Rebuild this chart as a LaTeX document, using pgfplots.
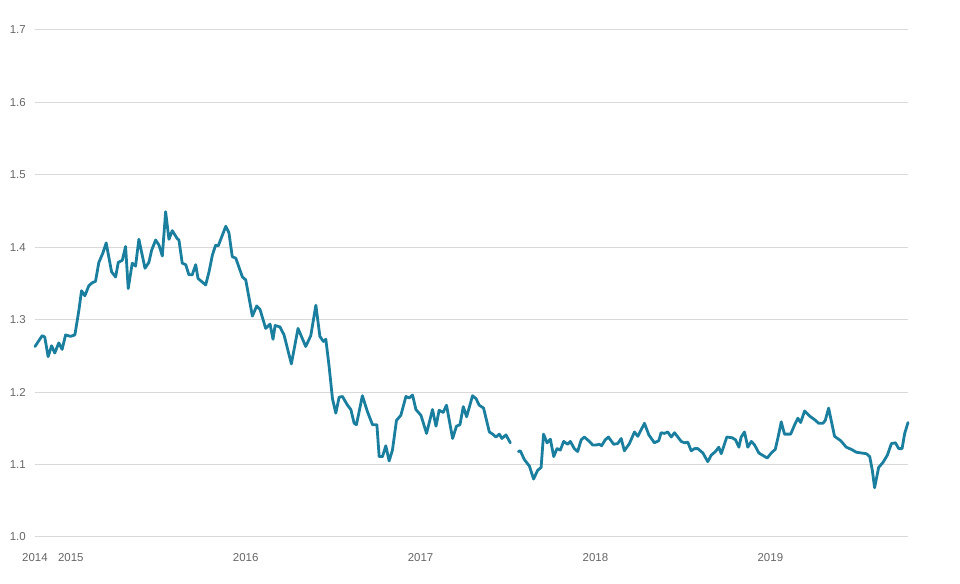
\documentclass[border=0pt]{standalone}
\usepackage{pgfplots}
\usepackage{pgfplotstable}
\pgfplotsset{compat=1.18}
\usepackage{fontspec}
\setmainfont{Liberation Sans}

\definecolor{lineteal}{HTML}{1A7F9F}
\definecolor{gridgrey}{HTML}{D9D9D9}
\definecolor{labelgrey}{HTML}{666666}

% weekly rate; nan marks the break in mid 2017
\pgfplotstableread{
year value
2014.795 1.263
2014.836 1.278
2014.851 1.276
2014.870 1.249
2014.890 1.264
2014.908 1.254
2014.931 1.268
2014.950 1.259
2014.970 1.279
2014.998 1.277
2015.023 1.279
2015.046 1.313
2015.061 1.340
2015.080 1.333
2015.103 1.347
2015.122 1.351
2015.141 1.353
2015.160 1.379
2015.183 1.392
2015.202 1.406
2015.233 1.366
2015.256 1.359
2015.271 1.379
2015.294 1.382
2015.313 1.401
2015.328 1.343
2015.351 1.378
2015.370 1.374
2015.389 1.411
2015.424 1.371
2015.446 1.379
2015.462 1.396
2015.485 1.410
2015.504 1.403
2015.523 1.388
2015.542 1.449
2015.561 1.411
2015.580 1.423
2015.608 1.412
2015.618 1.410
2015.637 1.378
2015.657 1.376
2015.675 1.362
2015.694 1.362
2015.714 1.376
2015.727 1.357
2015.771 1.348
2015.790 1.366
2015.809 1.389
2015.828 1.403
2015.843 1.402
2015.886 1.429
2015.904 1.420
2015.923 1.387
2015.943 1.385
2015.981 1.359
2016.000 1.355
2016.038 1.305
2016.063 1.319
2016.082 1.314
2016.114 1.288
2016.139 1.294
2016.156 1.273
2016.168 1.292
2016.196 1.290
2016.219 1.279
2016.261 1.239
2016.299 1.288
2016.343 1.263
2016.372 1.278
2016.401 1.320
2016.424 1.277
2016.444 1.270
2016.458 1.273
2016.477 1.235
2016.496 1.191
2016.515 1.171
2016.534 1.193
2016.553 1.194
2016.582 1.182
2016.601 1.176
2016.620 1.157
2016.633 1.155
2016.667 1.195
2016.696 1.173
2016.725 1.155
2016.750 1.155
2016.763 1.111
2016.782 1.111
2016.801 1.126
2016.820 1.105
2016.839 1.120
2016.862 1.161
2016.887 1.168
2016.916 1.194
2016.935 1.192
2016.954 1.196
2016.973 1.176
2017.002 1.168
2017.034 1.143
2017.068 1.176
2017.088 1.153
2017.106 1.175
2017.129 1.172
2017.148 1.182
2017.183 1.136
2017.205 1.153
2017.225 1.155
2017.244 1.180
2017.263 1.166
2017.297 1.195
2017.317 1.191
2017.335 1.182
2017.360 1.178
2017.393 1.145
2017.412 1.142
2017.431 1.138
2017.450 1.142
2017.465 1.136
2017.488 1.141
2017.513 1.130
2017.536 nan
2017.559 1.118
2017.570 1.119
2017.593 1.107
2017.622 1.098
2017.646 1.080
2017.669 1.092
2017.689 1.096
2017.703 1.142
2017.723 1.130
2017.742 1.135
2017.761 1.111
2017.780 1.122
2017.799 1.120
2017.818 1.132
2017.841 1.128
2017.856 1.132
2017.879 1.122
2017.898 1.118
2017.918 1.134
2017.936 1.138
2017.965 1.132
2017.984 1.127
2018.003 1.127
2018.022 1.128
2018.035 1.126
2018.055 1.134
2018.074 1.138
2018.104 1.128
2018.127 1.129
2018.147 1.136
2018.165 1.119
2018.194 1.129
2018.223 1.145
2018.242 1.139
2018.280 1.157
2018.305 1.141
2018.337 1.130
2018.362 1.133
2018.375 1.144
2018.394 1.143
2018.413 1.145
2018.433 1.138
2018.452 1.144
2018.490 1.132
2018.509 1.130
2018.528 1.131
2018.547 1.119
2018.566 1.122
2018.585 1.122
2018.614 1.116
2018.642 1.104
2018.662 1.113
2018.686 1.118
2018.705 1.124
2018.719 1.115
2018.751 1.138
2018.782 1.137
2018.801 1.134
2018.820 1.124
2018.833 1.138
2018.852 1.145
2018.871 1.124
2018.891 1.132
2018.910 1.127
2018.934 1.116
2018.982 1.109
2019.005 1.116
2019.028 1.121
2019.047 1.141
2019.062 1.159
2019.081 1.142
2019.116 1.142
2019.139 1.155
2019.157 1.164
2019.173 1.158
2019.196 1.174
2019.224 1.167
2019.253 1.162
2019.276 1.157
2019.301 1.157
2019.314 1.161
2019.333 1.178
2019.367 1.139
2019.402 1.133
2019.434 1.124
2019.463 1.121
2019.492 1.117
2019.520 1.116
2019.549 1.115
2019.568 1.111
2019.583 1.092
2019.596 1.068
2019.619 1.096
2019.644 1.103
2019.669 1.113
2019.692 1.129
2019.715 1.130
2019.734 1.122
2019.753 1.122
2019.768 1.143
2019.787 1.158
}\rates

\begin{document}
\begin{tikzpicture}
% page = 960 x 584 px at 0.75 pt per px
\path[use as bounding box] (-26.25pt,-35.25pt) rectangle (693.75pt,402.75pt);
\begin{axis}[
    at={(0pt,0pt)}, anchor=south west,
    scale only axis,
    width=654.75pt, height=380.25pt,
    xmin=2014.795, xmax=2019.787,
    ymin=1.0, ymax=1.7,
    axis line style={draw=none},
    major tick length=0pt,
    ymajorgrids,
    grid style={gridgrey, line width=0.75pt},
    xtick={2014.795,2015,2016,2017,2018,2019},
    xticklabels={2014,2015,2016,2017,2018,2019},
    ytick={1.0,1.1,1.2,1.3,1.4,1.5,1.6,1.7},
    yticklabels={1.0,1.1,1.2,1.3,1.4,1.5,1.6,1.7},
    tick label style={font=\fontsize{8.6}{10}\selectfont, text=labelgrey, inner sep=0pt},
    xticklabel style={anchor=base, yshift=-18.75pt},
    yticklabel style={anchor=east, xshift=-6.75pt},
    unbounded coords=jump,
    clip=false,
]
\addplot[lineteal, line width=2.1pt, line join=round, line cap=round] table[x=year, y=value] {\rates};
\end{axis}
\end{tikzpicture}
\end{document}
